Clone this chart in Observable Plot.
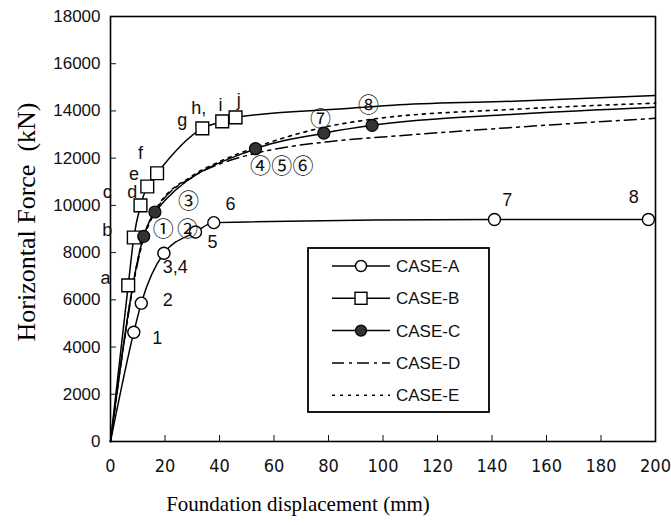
<!DOCTYPE html>
<html><head><meta charset="utf-8">
<script src="https://cdn.jsdelivr.net/npm/d3@7"></script>
<script src="https://cdn.jsdelivr.net/npm/@observablehq/plot@0.6"></script>
<style>
body{margin:0;background:#fff;}
#wrap{position:relative;width:671px;height:525px;}
#legend{position:absolute;left:307px;top:247px;}
</style></head><body><div id="wrap"></div>
<script>
// ---- ticks ----
const xTicks = [0,20,40,60,80,100,120,140,160,180,200];
const yTicks = [0,2000,4000,6000,8000,10000,12000,14000,16000,18000];

// ---- CASE-A (open circles) ----
const caseA_x = [8.55, 11.3, 19.6, 31.2, 37.9, 140.9, 197.4];
const caseA_y = [4630, 5860, 7970, 8870, 9270, 9400, 9400];
const caseA_labels = ["1","2","3,4","5","6","7","8"];
const caseA_lx = [17.2, 21.0, 23.8, 37.4, 44.0, 145.6, 192.0];
const caseA_ly = [4360, 5970, 7400, 8430, 10070, 10210, 10350];

// ---- CASE-B (open squares) ----
const caseB_x = [6.5, 8.55, 11.0, 13.5, 17.1, 33.7, 41.0, 45.9];
const caseB_y = [6610, 8640, 10000, 10800, 11360, 13260, 13560, 13730];
const caseB_tail_x = [88, 106, 150, 200];
const caseB_tail_y = [14110, 14260, 14420, 14650];
const caseB_labels = ["a","b","c","d","e","f","g","h,","i","j"];
const caseB_lx = [-1.8, -1.2, -1.2, 8.0, 8.6, 11.0, 26.3, 32.4, 40.4, 47.1];
const caseB_ly = [6900, 8940, 10560, 10560, 11340, 12190, 13600, 14100, 14240, 14450];

// ---- CASE-C (filled circles) ----
const caseC_x = [12.2, 16.3, 53.2, 78.3, 96.0];
const caseC_y = [8690, 9720, 12400, 13060, 13390];
const caseC_tail_x = [150, 200];
const caseC_tail_y = [13870, 14160];
const caseC_labels = ["①","②","③","④","⑤","⑥","⑦","⑧"];
const caseC_lx = [19.4, 28.3, 28.6, 55.0, 62.8, 70.6, 77.1, 94.7];
const caseC_ly = [8980, 8980, 10170, 11650, 11650, 11650, 13640, 14240];

// ---- CASE-D (dash-dot) ----
const caseD_x = [0, 12.2, 16.3, 30, 40, 53, 80, 106, 150, 200];
const caseD_y = [0, 8600, 9700, 11200, 11750, 12200, 12700, 12950, 13320, 13690];

// ---- CASE-E (dotted) ----
const caseE_x = [0, 12.2, 16.3, 30, 40, 53, 78, 96, 150, 200];
const caseE_y = [0, 8690, 9750, 11250, 11850, 12450, 13300, 13650, 14080, 14330];

const legendNames = ["CASE-A","CASE-B","CASE-C","CASE-D","CASE-E"];

// ---- build tables ----
const zip = (xs, ys) => xs.map((x,i) => ({x, y: ys[i]}));
const zipL = (ls, xs, ys) => ls.map((t,i) => ({t, x: xs[i], y: ys[i]}));
const origin = [{x:0, y:0}];
const lineA = origin.concat(zip(caseA_x, caseA_y));
const lineB = origin.concat(zip(caseB_x, caseB_y), zip(caseB_tail_x, caseB_tail_y));
const lineC = origin.concat(zip(caseC_x, caseC_y), zip(caseC_tail_x, caseC_tail_y));
const lineD = zip(caseD_x, caseD_y);
const lineE = zip(caseE_x, caseE_y);

const sans = "'Liberation Sans', Arial, sans-serif";
const narrow = "'Liberation Sans Narrow', 'DejaVu Sans Condensed', 'Liberation Sans', sans-serif";
const serif = "'Liberation Serif', 'Times New Roman', serif";
const circ = "'Noto Sans CJK JP', 'DejaVu Sans', sans-serif";

const chart = Plot.plot({
  width: 671, height: 525,
  marginLeft: 110, marginRight: 16, marginTop: 16, marginBottom: 84,
  style: {background: "#fff", overflow: "visible"},
  x: {domain: [0, 200]},
  y: {domain: [0, 18000]},
  marks: [
    Plot.axisX(xTicks, {tickSize: -6, tickPadding: 24, fontSize: 18, fontFamily: narrow, color: "#111", tickFormat: d => String(d), label: null}),
    Plot.axisY(yTicks, {tickSize: -6, tickPadding: 16, fontSize: 17, fontFamily: sans, color: "#111", tickFormat: d => String(d), label: null}),
    Plot.frame({stroke: "#000", strokeWidth: 1.6}),
    Plot.line(lineD, {x: "x", y: "y", curve: "monotone-x", stroke: "#000", strokeWidth: 1.5, strokeDasharray: "12,5,3,5"}),
    Plot.line(lineE, {x: "x", y: "y", curve: "monotone-x", stroke: "#000", strokeWidth: 1.6, strokeDasharray: "3,5"}),
    Plot.line(lineA, {x: "x", y: "y", curve: "monotone-x", stroke: "#000", strokeWidth: 1.5}),
    Plot.line(lineB, {x: "x", y: "y", curve: "monotone-x", stroke: "#000", strokeWidth: 1.5}),
    Plot.line(lineC, {x: "x", y: "y", curve: "monotone-x", stroke: "#000", strokeWidth: 1.5}),
    Plot.dot(zip(caseA_x, caseA_y), {x: "x", y: "y", r: 6, fill: "#fff", stroke: "#000", strokeWidth: 1.4}),
    Plot.dot(zip(caseB_x, caseB_y), {x: "x", y: "y", r: 7.2, symbol: "square", fill: "#fff", stroke: "#000", strokeWidth: 1.4}),
    Plot.dot(zip(caseC_x, caseC_y), {x: "x", y: "y", r: 6, fill: "#333", stroke: "#000", strokeWidth: 1.2}),
    Plot.text(zipL(caseA_labels, caseA_lx, caseA_ly), {x: "x", y: "y", text: "t", fontSize: 18, fontFamily: sans, fill: "#111"}),
    Plot.text(zipL(caseB_labels, caseB_lx, caseB_ly), {x: "x", y: "y", text: "t", fontSize: 18, fontFamily: sans, fill: "#111"}),
    Plot.text(zipL(caseC_labels, caseC_lx, caseC_ly), {x: "x", y: "y", text: "t", fontSize: 21, fontFamily: circ, fill: "#111"}),
    Plot.text(["Foundation displacement (mm)"], {frameAnchor: "bottom", textAnchor: "middle", dx: -85, dy: 69, fontSize: 21, fontFamily: serif, fill: "#000"}),
    Plot.text(["Horizontal Force  (kN)"], {frameAnchor: "left", textAnchor: "middle", dx: -84, dy: -7, rotate: -90, fontSize: 26, fontFamily: serif, fill: "#000"})
  ]
});
document.getElementById("wrap").appendChild(chart);

// ---- legend box ----
const lw = 182, lh = 165;
const leg = d3.select("#wrap").append("svg").attr("id","legend").attr("width", lw+2).attr("height", lh+2);
leg.append("rect").attr("x",1).attr("y",1).attr("width",lw-1).attr("height",lh-1).attr("fill","#fff").attr("stroke","#000").attr("stroke-width",1.8);
const dashes = [null, null, null, "12,5,3,5", "3,5"];
legendNames.forEach((name, i) => {
  const y = 19 + i*32.3;
  leg.append("line").attr("x1",25).attr("x2",83).attr("y1",y).attr("y2",y)
    .attr("stroke","#000").attr("stroke-width",1.5).attr("stroke-dasharray", dashes[i]);
  if (i === 0) leg.append("circle").attr("cx",54).attr("cy",y).attr("r",5.5).attr("fill","#fff").attr("stroke","#000").attr("stroke-width",1.4);
  if (i === 1) leg.append("rect").attr("x",48).attr("y",y-6).attr("width",12).attr("height",12).attr("fill","#fff").attr("stroke","#000").attr("stroke-width",1.4);
  if (i === 2) leg.append("circle").attr("cx",54).attr("cy",y).attr("r",5.5).attr("fill","#333").attr("stroke","#000").attr("stroke-width",1.2);
  leg.append("text").attr("x",89).attr("y",y).attr("dy","0.35em").attr("font-family",sans).attr("font-size",17).attr("fill","#111").text(name);
});
</script></body></html>
